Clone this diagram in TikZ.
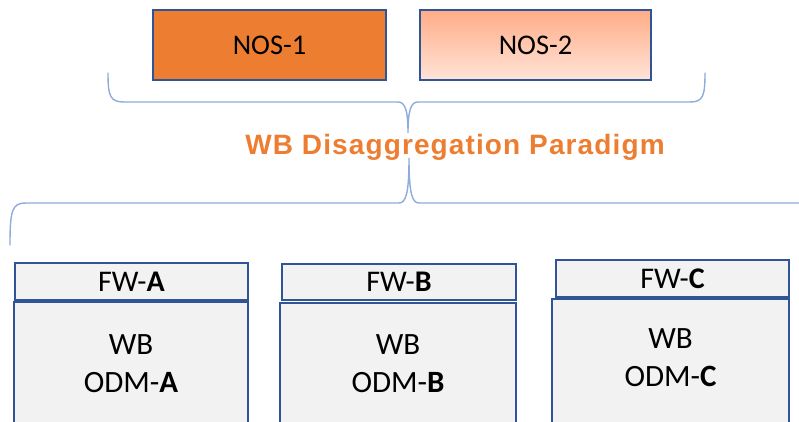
\documentclass[tikz,border=0pt]{standalone}
\usepackage{fontspec}
\setmainfont{Carlito}
\newfontfamily\titlefont[LetterSpace=4]{Liberation Sans}
\definecolor{nosorange}{RGB}{237,125,49}
\definecolor{peachtop}{RGB}{255,172,135}
\definecolor{peachbot}{RGB}{255,228,216}
\definecolor{boxblue}{RGB}{47,85,151}
\definecolor{bracecol}{RGB}{143,170,220}
\definecolor{boxgray}{RGB}{242,242,242}
\tikzset{
  nosbox/.style={draw=boxblue, line width=2.2pt, minimum height=70pt, inner sep=0pt, font=\fontsize{28.5}{32}\selectfont},
  fwbox/.style={draw=boxblue, fill=boxgray, line width=2.2pt, inner sep=0pt, font=\fontsize{30}{34}\selectfont},
  odmbox/.style={draw=boxblue, fill=boxgray, line width=2.2pt, inner sep=0pt},
  odmtext/.style={align=center, inner sep=0pt, font=\fontsize{31}{38}\selectfont},
  brace/.style={draw=bracecol, line width=1.4pt, line cap=round}
}
\begin{document}
\begin{tikzpicture}[x=1pt,y=-1pt]
\useasboundingbox (0,0) rectangle (799,422);
\clip (0,0) rectangle (799,422);
\node[nosbox, fill=nosorange, minimum width=233pt] (nos1) at (269.5,45) {NOS-1};
\node[nosbox, top color=peachtop, bottom color=peachbot, minimum width=231pt] (nos2) at (535.5,45) {NOS-2};
\draw[brace] (108,73) .. controls (108,96) and (110,102) .. (124,102) -- (398,102)
  .. controls (405,102) and (408,110) .. (408,133)
  .. controls (408,110) and (411,102) .. (418,102) -- (690,102)
  .. controls (703,102) and (705,96) .. (705,73);
\node[text=nosorange, anchor=base, font=\titlefont\bfseries\fontsize{28}{32}\selectfont] (title) at (455,154) {WB Disaggregation Paradigm};
\draw[brace] (10,245) .. controls (10,210) and (12,203) .. (26,203) -- (399,203)
  .. controls (406,203) and (409,193) .. (409,158)
  .. controls (409,193) and (412,203) .. (419,203) -- (830,203);
\node[odmbox, minimum width=234pt, minimum height=138pt] (odmA) at (131,371) {};
\node[fwbox, minimum width=233pt, minimum height=37pt] (fwA) at (131.5,281.5) {FW-\textbf{A}};
\node[odmtext] (wbA) at (131,364) {WB\\ODM-\textbf{A}};
\node[odmbox, minimum width=236pt, minimum height=137pt] (odmB) at (398,371.5) {};
\node[fwbox, minimum width=234pt, minimum height=36pt] (fwB) at (399,282) {FW-\textbf{B}};
\node[odmtext] (wbB) at (398,364) {WB\\ODM-\textbf{B}};
\node[odmbox, minimum width=237pt, minimum height=141pt] (odmC) at (670.5,369.5) {};
\node[fwbox, minimum width=233pt, minimum height=37pt] (fwC) at (672.5,278.5) {FW-\textbf{C}};
\node[odmtext] (wbC) at (670.5,358) {WB\\ODM-\textbf{C}};
\end{tikzpicture}
\end{document}
